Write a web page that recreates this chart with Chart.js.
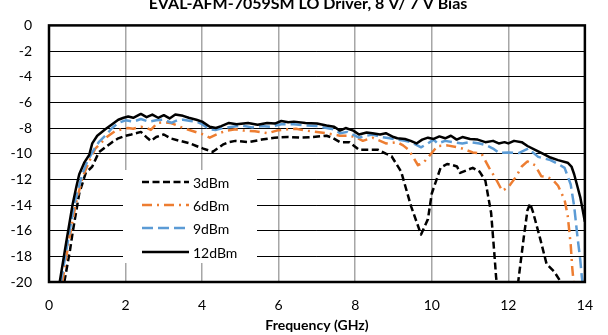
<!DOCTYPE html>
<html lang="en">
<head>
<meta charset="UTF-8">
<title>EVAL LO Driver</title>
<script src="https://cdn.jsdelivr.net/npm/chart.js"></script>
<style>
  body { margin: 0; background: #fff; }
  #wrap { width: 608px; height: 335px; }
</style>
</head>
<body>
<div id="wrap"><canvas id="myChart" width="608" height="335"></canvas></div>
<script>
  const chartTitle = 'EVAL-AFM-7059SM LO Driver, 8 V/ 7 V Bias';
  const xTitle = 'Frequency (GHz)';
  const seriesNames = ['3dBm', '6dBm', '9dBm', '12dBm'];

  // 3dBm (black dashed)
  const freq3 = [0.4, 0.55, 0.62, 0.79, 0.96, 1.13, 1.3, 1.47, 1.65, 1.81, 2.0, 2.15, 2.4, 2.58, 2.66, 2.8, 3.0, 3.17, 3.42, 3.68, 3.85, 4.03, 4.28, 4.4, 4.54, 4.7, 4.87, 5.2, 5.56, 5.89, 6.23, 6.57, 6.9, 7.25, 7.4, 7.6, 7.85, 8.1, 8.45, 8.6, 8.8, 8.95, 9.2, 9.46, 9.72, 9.9, 10.0, 10.15, 10.23, 10.4, 10.55, 10.66, 10.74, 10.9, 11.07, 11.25, 11.4, 11.55, 11.63, 11.68, 11.75, 12.2, 12.27, 12.4, 12.5, 12.57, 12.65, 12.83, 13.0, 13.1, 13.2, 13.35, 13.45];
  const p3 = [-20, -17.5, -16.1, -13.1, -11.5, -11.0, -9.9, -9.5, -9.1, -8.8, -8.6, -8.5, -8.3, -8.8, -9.0, -8.7, -8.5, -8.8, -9.0, -9.2, -9.4, -9.6, -9.85, -9.6, -9.3, -9.1, -9.0, -9.1, -8.9, -8.75, -8.7, -8.75, -8.7, -8.6, -8.75, -9.1, -9.1, -9.7, -9.7, -9.7, -10.0, -10.2, -11.4, -14.1, -16.3, -15.1, -13.1, -11.8, -11.1, -10.8, -10.9, -11.0, -11.5, -11.3, -11.1, -11.4, -12.1, -14.6, -17.6, -19.6, -21.5, -21.5, -19.7, -16.6, -14.4, -13.9, -14.6, -16.6, -18.6, -18.9, -19.2, -19.9, -21];

  // 6dBm (orange dash-dot)
  const freq6 = [0.35, 0.52, 0.7, 0.88, 1.05, 1.21, 1.35, 1.47, 1.6, 1.72, 1.9, 2.06, 2.2, 2.4, 2.55, 2.66, 2.83, 3.0, 3.17, 3.35, 3.5, 3.77, 4.03, 4.2, 4.45, 4.65, 4.87, 5.1, 5.38, 5.72, 5.95, 6.23, 6.45, 6.7, 7.0, 7.25, 7.6, 7.85, 8.0, 8.2, 8.45, 8.65, 8.8, 9.1, 9.25, 9.4, 9.52, 9.64, 9.78, 9.9, 10.15, 10.4, 10.66, 10.8, 11.07, 11.3, 11.5, 11.68, 11.84, 12.0, 12.2, 12.35, 12.5, 12.7, 12.86, 13.0, 13.15, 13.3, 13.47, 13.55, 13.63, 13.67, 13.72];
  const p6 = [-20, -16.8, -13.9, -11.8, -10.6, -9.6, -9.2, -8.8, -8.5, -8.25, -8.1, -8.0, -8.05, -7.9, -8.0, -8.15, -7.6, -7.55, -7.6, -7.8, -8.0, -8.25, -8.5, -8.75, -8.4, -8.2, -8.1, -8.2, -8.25, -8.4, -8.2, -8.1, -8.05, -8.2, -8.3, -8.4, -8.6, -8.6, -8.7, -9.0, -8.75, -9.0, -9.2, -9.1, -9.35, -9.7, -10.3, -10.9, -10.7, -10.3, -9.4, -9.35, -9.5, -9.6, -9.9, -10.0, -11.1, -12.0, -12.9, -12.6, -11.8, -11.0, -10.6, -10.9, -11.75, -11.8, -12.0, -12.5, -13.6, -14.8, -17.1, -18.9, -20.5];

  // 9dBm (blue dashed)
  const freq9 = [0.31, 0.49, 0.66, 0.87, 1.0, 1.17, 1.3, 1.47, 1.65, 1.81, 2.0, 2.2, 2.4, 2.6, 2.8, 3.0, 3.2, 3.35, 3.5, 3.7, 3.85, 4.0, 4.2, 4.35, 4.54, 4.8, 5.05, 5.3, 5.56, 5.8, 6.07, 6.4, 6.7, 7.0, 7.25, 7.45, 7.6, 7.8, 8.1, 8.3, 8.45, 8.7, 8.9, 9.1, 9.3, 9.46, 9.72, 9.9, 10.05, 10.15, 10.35, 10.56, 10.8, 11.0, 11.25, 11.43, 11.6, 11.76, 12.0, 12.27, 12.52, 12.78, 13.1, 13.3, 13.47, 13.63, 13.72, 13.8, 13.88, 13.92, 13.96];
  const p9 = [-20, -16.9, -13.9, -11.6, -10.6, -9.7, -9.1, -8.6, -8.0, -7.6, -7.4, -7.5, -7.3, -7.5, -7.4, -7.35, -7.6, -7.4, -7.35, -7.45, -7.5, -7.7, -8.1, -8.15, -8.0, -7.9, -7.8, -7.95, -7.85, -7.9, -7.7, -7.7, -7.8, -7.85, -8.0, -8.1, -8.4, -8.3, -8.75, -8.6, -8.5, -8.7, -8.8, -8.9, -9.0, -9.1, -9.5, -9.2, -8.9, -9.2, -9.0, -9.1, -9.2, -9.1, -9.2, -9.35, -9.6, -9.95, -9.9, -9.95, -9.6, -10.25, -10.5, -10.8, -11.1, -12.4, -14.1, -16.3, -18.3, -19.6, -20.5];

  // 12dBm (black solid)
  const freq12 = [0.28, 0.45, 0.62, 0.72, 0.79, 0.92, 1.05, 1.13, 1.26, 1.47, 1.65, 1.81, 1.95, 2.07, 2.2, 2.4, 2.55, 2.7, 2.85, 3.0, 3.15, 3.3, 3.5, 3.65, 3.85, 4.0, 4.2, 4.36, 4.5, 4.7, 4.9, 5.2, 5.45, 5.7, 5.9, 6.07, 6.25, 6.4, 6.7, 7.0, 7.25, 7.45, 7.6, 7.75, 7.95, 8.1, 8.3, 8.45, 8.65, 8.8, 9.0, 9.1, 9.3, 9.45, 9.6, 9.75, 9.9, 10.05, 10.2, 10.35, 10.5, 10.65, 10.8, 11.0, 11.2, 11.4, 11.6, 11.75, 11.9, 12.0, 12.15, 12.35, 12.5, 12.7, 12.9, 13.1, 13.3, 13.55, 13.65, 13.72, 13.8, 13.88, 13.95, 14.0];
  const p12 = [-20, -16.9, -13.9, -12.5, -11.6, -10.7, -10.1, -9.2, -8.6, -8.1, -7.7, -7.35, -7.2, -7.1, -7.2, -6.9, -7.15, -6.95, -7.2, -7.0, -7.25, -6.95, -7.05, -7.2, -7.35, -7.5, -7.9, -8.0, -7.85, -7.6, -7.7, -7.6, -7.75, -7.6, -7.65, -7.45, -7.55, -7.5, -7.6, -7.65, -7.8, -7.9, -8.2, -8.0, -8.2, -8.5, -8.35, -8.4, -8.5, -8.4, -8.7, -8.8, -8.85, -9.0, -9.2, -8.9, -8.75, -8.85, -8.65, -8.8, -8.6, -8.9, -8.7, -8.85, -8.9, -9.1, -9.0, -9.2, -9.1, -9.2, -9.0, -9.1, -9.4, -9.7, -10.0, -10.3, -10.5, -10.7, -11.0, -11.6, -12.5, -13.4, -14.5, -15.3];

  const xTicks = [0, 2, 4, 6, 8, 10, 12, 14];
  const yTicks = [0, -2, -4, -6, -8, -10, -12, -14, -16, -18, -20];

  function toPoints(freqs, vals) {
    return freqs.map((f, i) => ({ x: f, y: vals[i] }));
  }

  Chart.defaults.font.family = 'Lato';
  Chart.defaults.color = '#000';

  // 圖例框 + 外框 + 標題
  const extras = {
    id: 'extras',
    afterDatasetsDraw(chart) {
      const ctx = chart.ctx;
      const a = chart.chartArea;
      ctx.save();
      ctx.strokeStyle = '#000';
      ctx.lineWidth = 2.5;
      ctx.setLineDash([]);
      ctx.strokeRect(a.left, a.top, a.right - a.left, a.bottom - a.top);

      // legend
      ctx.fillStyle = '#fff';
      ctx.fillRect(123, 170, 134, 93);
      const rows = [182, 205, 228, 252];
      chart.data.datasets.forEach((ds, i) => {
        ctx.beginPath();
        ctx.strokeStyle = ds.borderColor;
        ctx.lineWidth = ds.borderWidth;
        ctx.setLineDash(ds.borderDash || []);
        ctx.moveTo(142, rows[i]);
        ctx.lineTo(189, rows[i]);
        ctx.stroke();
        ctx.setLineDash([]);
        ctx.fillStyle = '#000';
        ctx.font = '14px Lato';
        ctx.textAlign = 'left';
        ctx.textBaseline = 'middle';
        ctx.fillText(ds.label, 193, rows[i] + 1);
      });

      // title, cut off at the top like the original
      ctx.font = 'bold 16px Lato';
      ctx.textAlign = 'center';
      ctx.textBaseline = 'alphabetic';
      ctx.fillText(chartTitle, 308, 9);
      ctx.restore();
    }
  };

  const ctx = document.getElementById('myChart').getContext('2d');
  new Chart(ctx, {
    type: 'line',
    data: {
      datasets: [
        { label: seriesNames[0], data: toPoints(freq3, p3), borderColor: '#000', borderWidth: 2.5, borderDash: [7, 3.5], order: 3 },
        { label: seriesNames[1], data: toPoints(freq6, p6), borderColor: '#ED7D31', borderWidth: 2.5, borderDash: [10, 5, 2, 5], order: 2 },
        { label: seriesNames[2], data: toPoints(freq9, p9), borderColor: '#5B9BD5', borderWidth: 2.5, borderDash: [11, 5], order: 1 },
        { label: seriesNames[3], data: toPoints(freq12, p12), borderColor: '#000', borderWidth: 2.5, order: 0 }
      ]
    },
    options: {
      responsive: false,
      animation: false,
      devicePixelRatio: 1,
      layout: { padding: { top: 15, right: 10, left: 0, bottom: 0 } },
      elements: {
        point: { radius: 0 },
        line: { tension: 0, borderJoinStyle: 'round', fill: false }
      },
      plugins: {
        legend: { display: false },
        title: { display: false },
        tooltip: { enabled: false }
      },
      scales: {
        x: {
          type: 'linear',
          min: 0,
          max: 14,
          afterBuildTicks: axis => { axis.ticks = xTicks.map(v => ({ value: v })); },
          afterFit: axis => { axis.height = 53; },
          ticks: { font: { size: 14 }, color: '#000', padding: 15 },
          grid: { color: '#A6A6A6', lineWidth: 1.5, drawTicks: false },
          border: { display: false },
          title: { display: true, text: xTitle, font: { size: 14, weight: 'bold' }, color: '#000', padding: { top: 0, bottom: 1 } }
        },
        y: {
          min: -20,
          max: 0,
          afterBuildTicks: axis => { axis.ticks = yTicks.map(v => ({ value: v })); },
          afterFit: axis => { axis.width = 49; },
          ticks: { font: { size: 14 }, color: '#000', padding: 17 },
          grid: { color: '#000', lineWidth: 1, drawTicks: false },
          border: { display: false }
        }
      }
    },
    plugins: [extras]
  });
</script>
</body>
</html>
